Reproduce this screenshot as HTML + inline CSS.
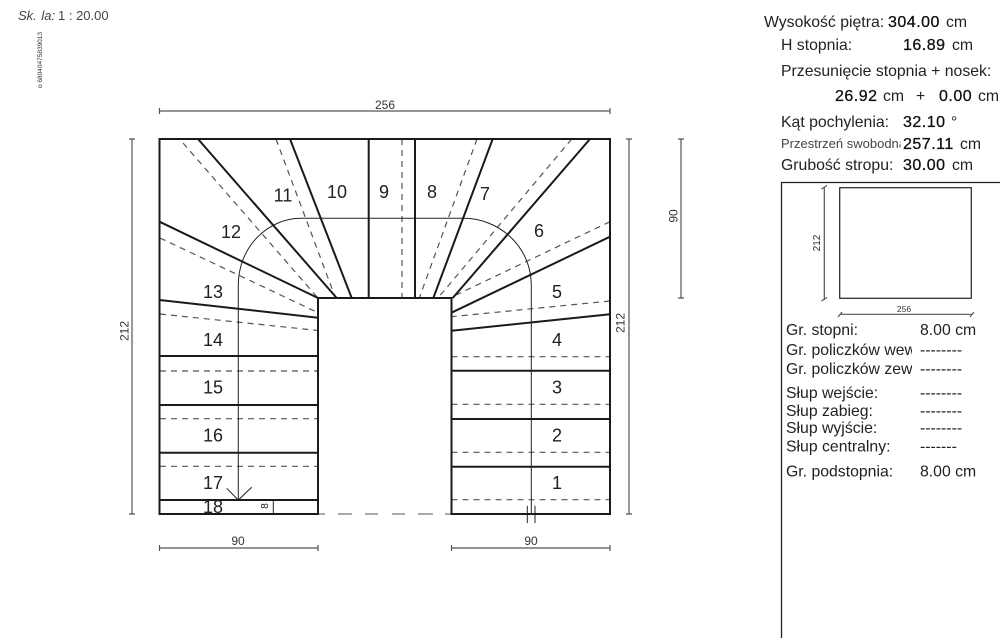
<!DOCTYPE html>
<html><head><meta charset="utf-8"><style>
html,body{margin:0;padding:0;background:#fff}
svg{display:block;font-family:"Liberation Sans",sans-serif}
.s{stroke:#1a1a1a;stroke-width:2;fill:none}
.t{stroke:#222;stroke-width:1;fill:none}
.d{stroke:#555;stroke-width:1.2;stroke-dasharray:6 5;fill:none}
.m{stroke:#555;stroke-width:1.2;fill:none}
.n{font-size:18px;fill:#222;text-anchor:middle}
.l{font-size:12px;fill:#333;text-anchor:middle}
.r{font-size:15.8px;fill:#222}
.b{font-size:16px;fill:#111;letter-spacing:.5px;stroke:#111;stroke-width:.3}
</style></head><body>
<svg width="1000" height="638" viewBox="0 0 1000 638" xmlns="http://www.w3.org/2000/svg">
<defs>
<clipPath id="c1"><rect x="775" y="130" width="125.5" height="25"/></clipPath>
<clipPath id="c2"><rect x="780" y="340" width="132" height="40"/></clipPath>
</defs>

<text x="18" y="20" font-size="13" font-style="italic" fill="#444">Sk. <tspan dx="1">la:</tspan></text>
<text x="58" y="20" font-size="13" fill="#444">1 : 20.00</text>
<text transform="translate(42,88) rotate(-90)" font-size="6.5" fill="#333">o 68040475839013</text>

<!-- dashed -->
<g class="d">
<path d="M402 139V298M276 139L335.5 298M183 143L317 297M160 238L318 312.7M160 314L318 330.5"/>
<path d="M477 139L419.3 298M571.7 139L438 298M610 221.7L456 295M610 301L451.5 316.7"/>
<path d="M160 371H318M160 418.7H318M160 466.3H318"/>
<path d="M451.5 356.7H610M451.5 404.3H610M451.5 452.3H610M451.5 499.7H610"/>
</g>
<path d="M318 514H325M338 514H352M365 514H378M392 514H405M418 514H433M445 514H451" stroke="#777" stroke-width="1.2" fill="none"/>

<!-- centre line -->
<path class="t" d="M238.3 500V285A63 66.7 0 0 1 301.7 218.3H463.3A68 66.7 0 0 1 531.3 285V514"/>
<path class="t" d="M226.7 488.3L238.3 500L251.7 487.3M527.3 505.7V523M535 505.7V523M273.3 500V514"/>

<!-- treads -->
<g class="s">
<path d="M159.5 139H610V514H451.5V298H318V514H159.5Z"/>
<path d="M368.7 139V298M415 139V298M290 139L351.7 298M198 139L336.7 298M159.5 221.7L318 298M159.5 300L318 317.7"/>
<path d="M492.7 139L433.3 298M590 139L452.7 298M610 236.7L451.5 312.7M610 314.3L451.5 330.7"/>
<path d="M159.5 356H318M159.5 405H318M159.5 452.7H318M159.5 500H318"/>
<path d="M451.5 370.7H610M451.5 419H610M451.5 466.7H610"/>
</g>

<!-- numbers -->
<g class="n">
<text x="557" y="489">1</text><text x="557" y="441.5">2</text><text x="557" y="393.5">3</text><text x="557" y="346">4</text>
<text x="557" y="298">5</text><text x="539" y="237">6</text><text x="485" y="200">7</text><text x="432" y="198">8</text>
<text x="384" y="198">9</text><text x="337" y="198">10</text><text x="283" y="201.5">11</text><text x="231" y="238">12</text>
<text x="213" y="298">13</text><text x="213" y="346">14</text><text x="213" y="393.5">15</text><text x="213" y="441.5">16</text>
<text x="213" y="489">17</text><text x="213" y="513">18</text>
</g>
<text transform="translate(268,506) rotate(-90)" font-size="10" fill="#222" text-anchor="middle">8</text>

<!-- dimensions -->
<g class="m">
<path d="M159.5 111H610M159.5 108V114M610 108V114"/>
<path d="M132 139V514M129 139H135M129 514H135"/>
<path d="M629 139V514M626 139H632M626 514H632"/>
<path d="M681 139V298M678 139H684M678 298H684"/>
<path d="M159.5 548H318M159.5 545V551M318 545V551"/>
<path d="M451.5 548H610M451.5 545V551M610 545V551"/>
</g>
<text class="l" x="385" y="109">256</text>
<text class="l" transform="translate(128.5,331) rotate(-90)">212</text>
<text class="l" transform="translate(624.5,323) rotate(-90)">212</text>
<text class="l" transform="translate(677.5,216) rotate(-90)">90</text>
<text class="l" x="238" y="545">90</text>
<text class="l" x="531" y="545">90</text>

<!-- header data -->
<text class="r" x="764" y="27">Wysokość piętra:</text><text class="b" x="888" y="27">304.00</text><text class="r" x="946" y="27">cm</text>
<text class="r" x="781" y="50">H stopnia:</text><text class="b" x="903" y="50">16.89</text><text class="r" x="952" y="50">cm</text>
<text class="r" x="781" y="76">Przesunięcie stopnia + nosek:</text>
<text class="b" x="835" y="101">26.92</text><text class="r" x="883" y="101">cm</text><text class="r" x="916" y="101">+</text><text class="b" x="939" y="101">0.00</text><text class="r" x="978" y="101">cm</text>
<text class="r" x="781" y="127">Kąt pochylenia:</text><text class="b" x="903" y="127">32.10</text><text class="r" x="951" y="127">°</text>
<g clip-path="url(#c1)"><text x="781" y="148" font-size="13" fill="#444">Przestrzeń swobodna</text></g>
<text class="b" x="903" y="149">257.11</text><text class="r" x="960" y="149">cm</text>
<text class="r" x="781" y="170">Grubość stropu:</text><text class="b" x="903" y="170">30.00</text><text class="r" x="952" y="170">cm</text>

<!-- panel -->
<path d="M1000 182.5H781.5V638" stroke="#222" stroke-width="1.3" fill="none"/>
<rect x="839.7" y="187.7" width="131.6" height="110.6" fill="none" stroke="#222" stroke-width="1.2"/>
<path class="m" d="M824.3 187V299M821.5 189L827 185.5M821.5 301L827 297.5M840 314.3H972M838 317L842 312M970 317L974 312"/>
<text transform="translate(820,243) rotate(-90)" font-size="10" fill="#333" text-anchor="middle">212</text>
<text x="904" y="312" font-size="8.5" fill="#333" text-anchor="middle">256</text>

<text class="r" x="786" y="335">Gr. stopni:</text><text class="r" x="920" y="335">8.00 cm</text>
<g clip-path="url(#c2)"><text class="r" x="786" y="355">Gr. policzków wew</text></g><text class="r" x="920" y="355">--------</text>
<g clip-path="url(#c2)"><text class="r" x="786" y="374">Gr. policzków zew</text></g><text class="r" x="920" y="374">--------</text>
<text class="r" x="786" y="398">Słup wejście:</text><text class="r" x="920" y="398">--------</text>
<text class="r" x="786" y="416">Słup zabieg:</text><text class="r" x="920" y="416">--------</text>
<text class="r" x="786" y="433">Słup wyjście:</text><text class="r" x="920" y="433">--------</text>
<text class="r" x="786" y="451.5">Słup centralny:</text><text class="r" x="920" y="451.5">-------</text>
<text class="r" x="786" y="476.5">Gr. podstopnia:</text><text class="r" x="920" y="476.5">8.00 cm</text>
</svg>
</body></html>
